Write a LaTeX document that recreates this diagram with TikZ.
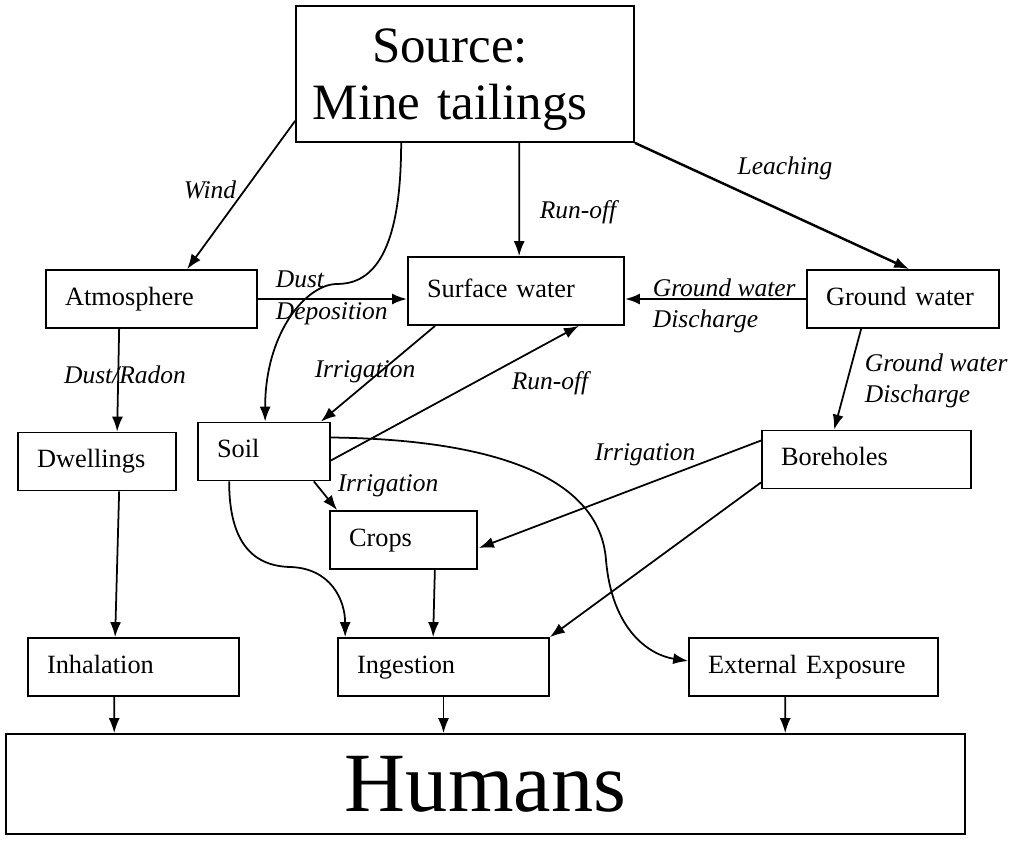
\documentclass[tikz,border=0pt]{standalone}
\usepackage{fontspec}
\setmainfont{Liberation Serif}
\usetikzlibrary{arrows.meta,calc}

\tikzset{
  box/.style={draw, line width=1pt, align=left, inner xsep=0.38cm, inner ysep=0pt,
    minimum height=1.16cm, text height=10.5pt, text depth=3.3pt, font=\fontsize{15}{18}\selectfont},
  lab/.style={font=\fontsize{14.5}{18}\selectfont\itshape, align=left, inner sep=0pt},
  thick arrow/.style={->, line width=1.4pt},
}

\begin{document}
\begin{tikzpicture}[x=0.02cm, y=-0.02cm, line width=1pt, >={Latex[length=3mm,width=2.2mm]}]
  \useasboundingbox (0,0) rectangle (1024,844);
  % boxes
  \node[box, text width=6cm, minimum height=2.72cm, align=center, text height=, text depth=,
    font=\fontsize{29}{32}\selectfont]
    (src) at (465,74) {\hspace*{-0.6cm}\rule{0pt}{25.5pt}Source:\\\hspace*{-0.6cm}Mine tailings};
  \node[box, text width=3.46cm] (atm) at (151.5,299) {Atmosphere};
  \node[box, text width=3.56cm, minimum height=1.36cm] (sw) at (516,291) {Surface water};
  \node[box, text width=3.08cm] (gw) at (903,299) {Ground water};
  \node[box, text width=2.40cm] (dw) at (97,461.5) {Dwellings};
  \node[box, text width=1.88cm] (soil) at (264,451.5) {Soil};
  \node[box, text width=3.42cm] (bh) at (866.5,459.5) {Boreholes};
  \node[box, text width=2.18cm] (crops) at (403.5,540) {Crops};
  \node[box, text width=3.46cm] (inh) at (133.5,667) {Inhalation};
  \node[box, text width=3.46cm] (ing) at (443.5,667) {Ingestion};
  \node[box, text width=4.22cm] (ext) at (813.5,667) {External Exposure};
  \node[box, text width=18.42cm, minimum height=2cm, align=center, text height=, text depth=,
    font=\fontsize{48}{52}\selectfont]
    (hum) at (485.5,784) {Humans};

  % pathways from the source
  \draw[->] ($(src.south west)+(0,-22)$) -- ($(atm.north west)+(142,0)$);
  \draw[->] ($(src.south west)+(106,0)$) .. controls +(0,120) and +(30,0) .. (337,284)
    .. controls +(-30,0) and +(0,-90) .. ($(soil.north west)+(68,0)$);
  \draw[->] ($(src.south west)+(224,0)$) -- ($(sw.north west)+(112,0)$);
  \draw[thick arrow] (src.south east) -- ($(gw.north west)+(103,0)$);
  \node[lab] (lwind) at (210,190) {Wind};
  \node[lab] (lrun1) at (578,212) {Run-off};
  \node[lab] (lleach) at (785,168) {Leaching};

  % middle row
  \draw[thick arrow] (atm.east) -- (atm.east -| sw.west);
  \draw[thick arrow] (gw.west) -- (gw.west -| sw.east);
  \node[lab, anchor=west] (ldust) at (275,298) {Dust\\Deposition};
  \node[lab, anchor=west] (lgw1) at (652,306) {Ground water\\Discharge};
  \draw[->] ($(atm.south west)+(74,0)$) -- ($(dw.north west)+(100,0)$);
  \node[lab] (lradon) at (125,375) {Dust/Radon};
  \draw[->] ($(sw.south west)+(28,0)$) -- ($(soil.north east)+(-10,0)$);
  \node[lab] (lirr1) at (365,372) {Irrigation};
  \draw[->] ($(soil.east)+(0,9)$) -- ($(sw.south east)+(-46,0)$);
  \node[lab] (lrun2) at (550,383) {Run-off};
  \draw[->] ($(gw.south west)+(55,0)$) -- ($(bh.north west)+(73,0)$);
  \node[lab, anchor=west] (lgw2) at (864,381) {Ground water\\Discharge};

  % to crops and the exposure routes
  \draw[->] ($(bh.west)+(0,-19)$) -- ($(crops.east)+(1,8)$);
  \node[lab] (lirr2) at (645,455) {Irrigation};
  \draw[->] ($(bh.south west)+(0,-7)$) -- (ing.north east);
  \draw[->] ($(soil.south east)+(-17,0)$) -- ($(crops.north west)+(8,0)$);
  \node[lab] (lirr3) at (388,486) {Irrigation};
  \draw[->] ($(crops.south east)+(-43,0)$) -- ($(ing.north west)+(96,0)$);
  \draw[->] ($(dw.south west)+(102,0)$) -- ($(inh.north west)+(88,0)$);
  \draw[->] ($(soil.south west)+(32,0)$) .. controls +(0,64) and +(-35,-1) .. (290,567)
    .. controls +(40,1) and +(0,-38) .. ($(ing.north west)+(8,0)$);
  \draw[->] ($(soil.east)+(0,-14)$) .. controls +(170,2) and +(-6,-80) .. (606,560)
    .. controls +(6,70) and +(-39,-6) .. ($(ext.west)+(0,-6)$);

  % into humans
  \draw[->] ($(inh.south west)+(87,0)$) -- ($(hum.north west)+(109,0)$);
  \draw[->] (ing.south) -- (ing.south |- hum.north);
  \draw[->] ($(ext.south west)+(97,0)$) -- ($(hum.north west)+(780,0)$);
\end{tikzpicture}
\end{document}
